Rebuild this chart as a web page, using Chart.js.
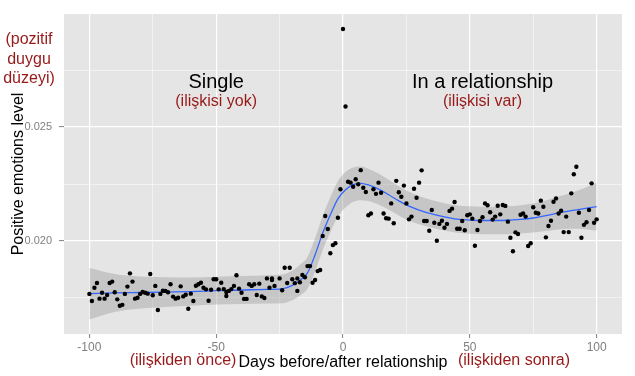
<!DOCTYPE html>
<html>
<head>
<meta charset="utf-8">
<script src="https://cdn.jsdelivr.net/npm/chart.js@4.4.0/dist/chart.umd.min.js"></script>
<style>
  html, body { margin: 0; padding: 0; background: #ffffff; }
  #wrap { width: 635px; height: 376px; position: relative; }
</style>
</head>
<body>
<div id="wrap"><canvas id="chart_positiveEmotions"></canvas></div>
<script>
// days relative to the start of the relationship, and the measured level
var pointDays = [
    -100, -99, -98, -97, -96, -95, -94, -93, -92, -91, -90, -89, -88, -87, -86, -85, -84, -83, -82, -81,
    -80, -79, -78, -77, -76, -75, -74, -73, -72, -71, -70, -69, -68, -67, -66, -65, -64, -63, -62, -61,
    -60, -59, -58, -57, -56, -55, -54, -53, -52, -51, -50, -49, -48, -47, -46, -46, -45, -44, -43, -42,
    -41, -40, -39, -38, -37, -36, -35, -34, -33, -32, -31, -30, -29, -28, -28, -27, -25, -24, -23, -22,
    -21, -20, -19, -18, -18, -17, -16, -15, -14, -13, -12, -11, -10, -9, -8, -7, -6, -5, -4, -3,
    -2, -1, 0, 1, 2, 3, 4, 5, 6, 7, 8, 9, 10, 11, 12, 13, 14, 15, 16, 17,
    18, 19, 20, 21, 22, 23, 24, 25, 26, 27, 28, 29, 30, 31, 32, 33, 34, 35, 36, 37,
    38, 39, 40, 41, 42, 43, 44, 45, 46, 47, 48, 49, 50, 51, 52, 53, 54, 55, 56, 57,
    58, 59, 60, 61, 62, 63, 64, 65, 66, 67, 68, 69, 70, 71, 72, 73, 74, 75, 76, 77,
    78, 79, 80, 81, 82, 83, 84, 85, 86, 87, 88, 89, 90, 91, 92, 93, 94, 95, 96, 97,
    98, 99, 100
];
var pointLevels = [
    0.01768, 0.01737, 0.01795, 0.01816, 0.01747, 0.01773, 0.01747, 0.01763, 0.01816, 0.01822, 0.01775, 0.01744, 0.01716, 0.01720, 0.01768, 0.01800, 0.01858, 0.01822, 0.01747, 0.01751,
    0.01768, 0.01776, 0.01773, 0.01769, 0.01855, 0.01762, 0.01803, 0.01697, 0.01768, 0.01782, 0.01781, 0.01775, 0.01810, 0.01756, 0.01747, 0.01751, 0.01801, 0.01757, 0.01764, 0.01703,
    0.01769, 0.01737, 0.01804, 0.01810, 0.01817, 0.01795, 0.01788, 0.01738, 0.01786, 0.01832, 0.01832, 0.01788, 0.01817, 0.01789, 0.01776, 0.01759, 0.01781, 0.01789, 0.01803, 0.01850,
    0.01791, 0.01773, 0.01746, 0.01746, 0.01810, 0.01803, 0.01810, 0.01763, 0.01813, 0.01757, 0.01750, 0.01836, 0.01795, 0.01829, 0.01836, 0.01803, 0.01836, 0.01784, 0.01883, 0.01816,
    0.01883, 0.01832, 0.01815, 0.01836, 0.01781, 0.01819, 0.01851, 0.01841, 0.01890, 0.01890, 0.01817, 0.01829, 0.01868, 0.01873, 0.02022, 0.02110, 0.02053, 0.01946, 0.01982, 0.01990,
    0.02102, 0.02227, 0.02930, 0.02590, 0.02260, 0.02256, 0.02238, 0.02271, 0.02249, 0.02311, 0.02234, 0.02215, 0.02113, 0.02121, 0.02227, 0.02207, 0.02256, 0.02212, 0.02121, 0.02100,
    0.02098, 0.02165, 0.02078, 0.02264, 0.02214, 0.02194, 0.02243, 0.02165, 0.02095, 0.02107, 0.02229, 0.02190, 0.02256, 0.02310, 0.02088, 0.02088, 0.02045, 0.02136, 0.02080, 0.02001,
    0.02075, 0.02089, 0.02058, 0.02075, 0.02132, 0.02142, 0.02171, 0.02054, 0.02054, 0.02088, 0.02047, 0.02113, 0.02117, 0.02098, 0.01979, 0.02048, 0.02088, 0.02104, 0.02165, 0.02157,
    0.02126, 0.02094, 0.02107, 0.02155, 0.02117, 0.02158, 0.02154, 0.02085, 0.02014, 0.01955, 0.02038, 0.02031, 0.02115, 0.02121, 0.02107, 0.01978, 0.01990, 0.02148, 0.02124, 0.02121,
    0.02177, 0.02150, 0.02016, 0.02066, 0.02089, 0.02172, 0.02187, 0.02121, 0.02133, 0.02039, 0.02107, 0.02039, 0.02209, 0.02293, 0.02326, 0.02124, 0.02014, 0.02071, 0.02082, 0.02136,
    0.02253, 0.02080, 0.02095
];

// loess smooth and its confidence band
var fitDays = [-100, -90, -80, -70, -60, -50, -40, -30, -24, -20, -17, -14, -11, -8, -5, -2, 1, 4, 7, 10,
    14, 18, 22, 26, 30, 35, 40, 45, 50, 55, 60, 65, 70, 75, 80, 85, 90, 95, 100];
var fitLevels = [0.01769, 0.01772, 0.01774, 0.01776, 0.01778, 0.01782, 0.01785, 0.01788, 0.01790, 0.01805, 0.01828, 0.01860, 0.01940, 0.02035, 0.02115, 0.02185, 0.02225, 0.02247, 0.02253, 0.02246,
    0.02228, 0.02203, 0.02176, 0.02153, 0.02136, 0.02119, 0.02106, 0.02096, 0.02092, 0.02090, 0.02090, 0.02091, 0.02095, 0.02101, 0.02111, 0.02123, 0.02133, 0.02142, 0.02151];
var bandLow = [0.01656, 0.01689, 0.01704, 0.01711, 0.01716, 0.01721, 0.01724, 0.01726, 0.01727, 0.01740, 0.01760, 0.01790, 0.01867, 0.01960, 0.02038, 0.02107, 0.02147, 0.02171, 0.02179, 0.02175,
    0.02160, 0.02137, 0.02112, 0.02090, 0.02074, 0.02058, 0.02046, 0.02036, 0.02032, 0.02030, 0.02030, 0.02030, 0.02033, 0.02037, 0.02044, 0.02051, 0.02054, 0.02052, 0.02046];
var bandHigh = [0.01882, 0.01855, 0.01844, 0.01841, 0.01840, 0.01843, 0.01846, 0.01850, 0.01853, 0.01870, 0.01896, 0.01930, 0.02013, 0.02110, 0.02192, 0.02263, 0.02303, 0.02323, 0.02327, 0.02317,
    0.02296, 0.02269, 0.02240, 0.02216, 0.02198, 0.02180, 0.02166, 0.02156, 0.02152, 0.02150, 0.02150, 0.02152, 0.02157, 0.02165, 0.02178, 0.02195, 0.02212, 0.02232, 0.02256];

// axis ticks: labelled ones and the minor grid lines in between
var xTickValues = [-100, -75, -50, -25, 0, 25, 50, 75, 100];
var xTickLabels = [-100, -50, 0, 50, 100];
var yTickValues = [0.0175, 0.020, 0.0225, 0.025, 0.0275];
var yTickLabels = [0.020, 0.025];

function toXY(xs, ys) {
    return xs.map(function(x, i) { return {x: x, y: ys[i]}; });
}
function isLabelled(list, value) {
    return list.some(function(v) { return Math.abs(v - value) < 1e-9; });
}

var red = '#981818';
var fontName = '"Liberation Sans", Arial, sans-serif';

var chart_positiveEmotions = new Chart(document.getElementById('chart_positiveEmotions'), {
    type: 'line',
    data: {
        datasets: [
            {
                label: 'band low',
                data: toXY(fitDays, bandLow),
                borderWidth: 0,
                pointRadius: 0,
                fill: false,
                cubicInterpolationMode: 'monotone',
                order: 3
            },
            {
                label: 'band high',
                data: toXY(fitDays, bandHigh),
                borderWidth: 0,
                pointRadius: 0,
                backgroundColor: 'rgba(153,153,153,0.4)',
                fill: '-1',
                cubicInterpolationMode: 'monotone',
                order: 2
            },
            {
                label: 'loess',
                data: toXY(fitDays, fitLevels),
                borderColor: '#3366ff',
                borderWidth: 1.3,
                pointRadius: 0,
                fill: false,
                cubicInterpolationMode: 'monotone',
                order: 1
            },
            {
                label: 'days',
                data: toXY(pointDays, pointLevels),
                showLine: false,
                pointRadius: 2.2,
                pointBorderWidth: 0,
                pointBackgroundColor: '#000000',
                order: 0
            }
        ]
    },
    options: {
        animation: false,
        responsive: true,
        maintainAspectRatio: false,
        layout: {
            padding: {top: 14, right: 13, left: 0, bottom: 0}
        },
        plugins: {
            legend: {display: false},
            tooltip: {enabled: false}
        },
        scales: {
            x: {
                type: 'linear',
                min: -110,
                max: 110,
                afterBuildTicks: function(scale) {
                    scale.ticks = xTickValues.map(function(v) { return {value: v}; });
                },
                afterFit: function(scale) { scale.height = 42; },
                border: {display: false},
                grid: {
                    color: '#ffffff',
                    lineWidth: function(ctx) { return isLabelled(xTickLabels, ctx.tick.value) ? 1.2 : 0.5; },
                    tickLength: 4,
                    tickColor: function(ctx) { return isLabelled(xTickLabels, ctx.tick.value) ? '#7f7f7f' : 'rgba(0,0,0,0)'; },
                    tickWidth: 1
                },
                ticks: {
                    autoSkip: false,
                    maxRotation: 0,
                    padding: 2,
                    color: '#7f7f7f',
                    font: {family: fontName, size: 12},
                    callback: function(value) {
                        return isLabelled(xTickLabels, value) ? String(value) : '';
                    }
                },
                title: {
                    display: true,
                    text: 'Days before/after relationship',
                    color: '#000000',
                    font: {family: fontName, size: 16},
                    padding: {top: 0, bottom: 4}
                }
            },
            y: {
                type: 'linear',
                min: 0.01592,
                max: 0.02996,
                afterBuildTicks: function(scale) {
                    scale.ticks = yTickValues.map(function(v) { return {value: v}; });
                },
                afterFit: function(scale) { scale.width = 64; },
                border: {display: false},
                grid: {
                    color: '#ffffff',
                    lineWidth: function(ctx) { return isLabelled(yTickLabels, ctx.tick.value) ? 1.2 : 0.5; },
                    tickLength: 5,
                    tickColor: function(ctx) { return isLabelled(yTickLabels, ctx.tick.value) ? '#7f7f7f' : 'rgba(0,0,0,0)'; },
                    tickWidth: 1
                },
                ticks: {
                    autoSkip: false,
                    padding: 7,
                    color: '#7f7f7f',
                    font: {family: fontName, size: 11},
                    callback: function(value) {
                        return isLabelled(yTickLabels, value) ? value.toFixed(3) : '';
                    }
                },
                title: {
                    display: true,
                    text: 'Positive emotions level',
                    color: '#000000',
                    font: {family: fontName, size: 16},
                    padding: {top: 9, bottom: 0}
                }
            }
        }
    },
    plugins: [{
        id: 'panelBackground',
        beforeDraw: (chart) => {
            const ctx = chart.ctx;
            const a = chart.chartArea;
            ctx.save();
            ctx.fillStyle = '#ffffff';
            ctx.fillRect(0, 0, chart.width, chart.height);
            ctx.fillStyle = '#e5e5e5';
            ctx.fillRect(a.left, a.top, a.right - a.left, a.bottom - a.top);
            ctx.restore();
        }
    }, {
        id: 'annotations',
        afterDraw: (chart) => {
            const ctx = chart.ctx;
            const xs = chart.scales.x;
            const ys = chart.scales.y;
            ctx.save();
            ctx.textAlign = 'center';
            ctx.textBaseline = 'middle';

            // phase labels inside the panel
            ctx.fillStyle = '#000000';
            ctx.font = '20px ' + fontName;
            ctx.fillText('Single', xs.getPixelForValue(-50), ys.getPixelForValue(0.02697));
            ctx.fillText('In a relationship', xs.getPixelForValue(55), ys.getPixelForValue(0.02697));
            ctx.fillStyle = red;
            ctx.font = '16px ' + fontName;
            ctx.fillText('(ilişkisi yok)', xs.getPixelForValue(-50), ys.getPixelForValue(0.0261));
            ctx.fillText('(ilişkisi var)', xs.getPixelForValue(55), ys.getPixelForValue(0.0261));

            // Turkish glosses around the axes
            ctx.font = '16px ' + fontName;
            ctx.fillText('(pozitif', 29, 40);
            ctx.fillText('duygu', 29, 59.5);
            ctx.fillText('düzeyi)', 29, 79);
            ctx.fillText('(ilişkiden önce)', 183, 361);
            ctx.fillText('(ilişkiden sonra)', 514, 361);
            ctx.restore();
        }
    }]
});
</script>
</body>
</html>
